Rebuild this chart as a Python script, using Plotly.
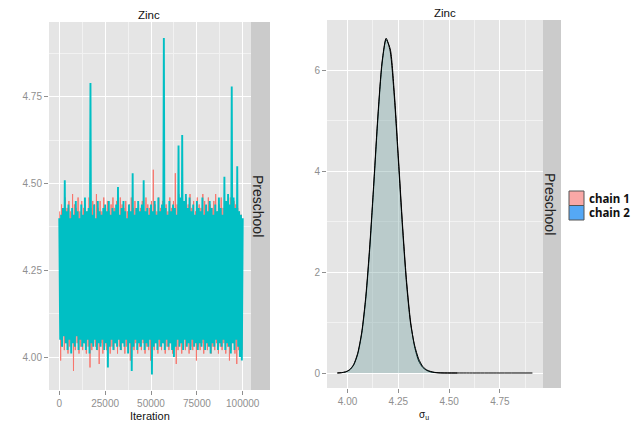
import plotly.graph_objects as go

W, H = 637, 428

# ---------------- data ----------------
# trace plot: iterations and sampled values (read from picture)
chain2_iter_start, chain2_iter_step = 0, 500
chain2_values = [
    4.40, 4.05, 4.41, 4.03, 4.43, 4.06, 4.51, 4.04, 4.42, 4.02,
    4.44, 4.05, 4.40, 4.01, 4.43, 4.04, 4.41, 4.03, 4.45, 4.06,
    4.42, 4.02, 4.40, 4.05, 4.44, 4.03, 4.41, 4.04, 4.46, 4.02,
    4.42, 4.05, 4.43, 4.01, 4.79, 4.04, 4.41, 4.03, 4.44, 4.05,
    4.40, 4.02, 4.45, 4.04, 4.42, 4.03, 4.41, 4.05, 4.43, 4.02,
    4.44, 4.04, 4.42, 3.97, 4.45, 4.03, 4.41, 4.05, 4.43, 4.02,
    4.42, 4.04, 4.44, 4.03, 4.49, 4.05, 4.41, 4.02, 4.43, 4.04,
    4.45, 4.03, 4.42, 4.05, 4.40, 4.01, 4.44, 4.04, 4.42, 3.96,
    4.53, 4.03, 4.41, 4.05, 4.43, 4.02, 4.45, 4.04, 4.42, 4.03,
    4.44, 4.05, 4.51, 4.02, 4.42, 4.04, 4.43, 4.03, 4.41, 4.05,
    4.44, 3.95, 4.42, 4.03, 4.45, 4.04, 4.41, 4.02, 4.46, 4.05,
    4.42, 4.03, 4.44, 4.04, 4.92, 4.02, 4.43, 4.05, 4.41, 4.03,
    4.45, 4.04, 4.42, 4.02, 4.44, 4.00, 4.43, 4.03, 4.41, 4.05,
    4.61, 4.03, 4.46, 4.04, 4.64, 4.02, 4.45, 4.05, 4.47, 4.03,
    4.43, 4.04, 4.46, 4.02, 4.42, 4.05, 4.44, 4.03, 4.41, 4.04,
    4.45, 4.02, 4.43, 4.04, 4.42, 4.03, 4.46, 4.05, 4.41, 4.02,
    4.44, 4.04, 4.42, 4.03, 4.45, 4.01, 4.43, 4.04, 4.41, 4.03,
    4.44, 4.05, 4.42, 4.02, 4.46, 4.04, 4.43, 4.03, 4.41, 4.05,
    4.52, 4.02, 4.45, 4.04, 4.47, 4.03, 4.44, 4.01, 4.78, 4.04,
    4.46, 4.02, 4.43, 4.05, 4.55, 4.03, 4.42, 4.00, 4.41, 3.99,
    4.40,
]
chain1_iter_start, chain1_iter_step = 250, 500
chain1_values = [
    4.42, 3.99, 4.44, 4.03, 4.41, 4.02, 4.46, 4.04, 4.43, 4.01,
    4.45, 4.03, 4.42, 4.05, 4.47, 3.96, 4.44, 4.02, 4.43, 4.04,
    4.46, 4.01, 4.42, 4.03, 4.45, 4.02, 4.43, 4.04, 4.44, 4.01,
    4.42, 4.03, 4.46, 3.97, 4.43, 4.02, 4.45, 4.04, 4.44, 4.03,
    4.47, 4.02, 4.43, 3.98, 4.45, 4.04, 4.42, 4.01, 4.46, 4.03,
    4.43, 4.02, 4.45, 4.04, 4.42, 4.01, 4.44, 4.03, 4.46, 4.02,
    4.43, 4.04, 4.45, 4.01, 4.42, 4.03, 4.46, 4.02, 4.44, 4.04,
    4.43, 4.01, 4.45, 4.03, 4.42, 4.02, 4.44, 3.99, 4.46, 4.03,
    4.43, 4.02, 4.45, 4.04, 4.42, 4.01, 4.44, 4.03, 4.43, 4.02,
    4.45, 4.04, 4.42, 4.01, 4.46, 4.03, 4.44, 4.02, 4.43, 3.99,
    4.45, 4.03, 4.54, 4.02, 4.44, 4.04, 4.42, 4.01, 4.46, 4.03,
    4.43, 4.02, 4.45, 4.04, 4.48, 4.01, 4.44, 4.03, 4.42, 4.02,
    4.46, 4.04, 4.43, 4.01, 4.45, 4.03, 4.53, 3.98, 4.44, 4.02,
    4.47, 4.04, 4.43, 4.01, 4.45, 4.03, 4.42, 4.02, 4.46, 4.04,
    4.44, 4.01, 4.47, 4.03, 4.43, 4.02, 4.45, 4.04, 4.42, 3.99,
    4.46, 4.03, 4.44, 4.02, 4.43, 4.04, 4.47, 4.01, 4.45, 4.03,
    4.42, 4.02, 4.46, 4.04, 4.44, 4.01, 4.43, 4.03, 4.45, 4.02,
    4.47, 4.04, 4.42, 4.01, 4.44, 4.03, 4.46, 4.02, 4.43, 4.04,
    4.45, 4.01, 4.42, 4.03, 4.44, 3.99, 4.46, 4.02, 4.43, 4.04,
    4.45, 4.01, 4.44, 3.98, 4.43, 4.02, 4.42, 4.03, 4.41, 4.02,
]

# density plot
dens_x1 = [3.95, 3.97, 3.99, 4.01, 4.03, 4.05, 4.07, 4.09, 4.11, 4.13,
           4.15, 4.17, 4.19, 4.21, 4.23, 4.25, 4.27, 4.29, 4.31, 4.33,
           4.35, 4.37, 4.39, 4.41, 4.43, 4.45, 4.47, 4.54]
dens_y1 = [0.001, 0.006, 0.02, 0.058, 0.155, 0.37, 0.78, 1.47, 2.49, 3.76,
           5.07, 6.12, 6.60, 6.42, 5.56, 4.30, 2.98, 1.85, 1.03, 0.52,
           0.24, 0.11, 0.05, 0.02, 0.008, 0.003, 0.001, 0.0]
dens_x2 = [3.95, 3.97, 3.99, 4.01, 4.03, 4.05, 4.07, 4.09, 4.11, 4.13,
           4.15, 4.17, 4.19, 4.21, 4.23, 4.25, 4.27, 4.29, 4.31, 4.33,
           4.35, 4.37, 4.39, 4.41, 4.43, 4.45, 4.47, 4.60, 4.75, 4.91]
dens_y2 = [0.0, 0.007, 0.022, 0.064, 0.166, 0.39, 0.81, 1.52, 2.55, 3.82,
           5.13, 6.16, 6.63, 6.37, 5.48, 4.22, 2.91, 1.79, 0.99, 0.55,
           0.28, 0.13, 0.06, 0.03, 0.012, 0.004, 0.001, 0.0, 0.0, 0.0]

trace_xticks = [0, 25000, 50000, 75000, 100000]
trace_xlabels = ["0", "25000", "50000", "75000", "100000"]
trace_yticks = [4.00, 4.25, 4.50, 4.75]
trace_ylabels = ["4.00", "4.25", "4.50", "4.75"]
dens_xticks = [4.00, 4.25, 4.50, 4.75]
dens_xlabels = ["4.00", "4.25", "4.50", "4.75"]
dens_yticks = [0, 2, 4, 6]
dens_ylabels = ["0", "2", "4", "6"]

panel_title = "Zinc"
strip_label = "Preschool"
legend_labels = ["chain 1", "chain 2"]

# ---------------- styling ----------------
RED = "#F8766D"
CYAN = "#00BFC4"
TICKGREY = "#8f8f8f"


def px_x(p):
    return p / W


def px_y(p):
    return 1 - p / H


chain2_x = [chain2_iter_start + i * chain2_iter_step for i in range(len(chain2_values))]
chain1_x = [chain1_iter_start + i * chain1_iter_step for i in range(len(chain1_values))]

fig = go.Figure()
fig.add_trace(go.Scatter(x=chain1_x, y=chain1_values, mode="lines",
                         line=dict(color=RED, width=1, simplify=False),
                         xaxis="x", yaxis="y", name="chain 1", showlegend=False))
fig.add_trace(go.Scatter(x=chain2_x, y=chain2_values, mode="lines",
                         line=dict(color=CYAN, width=1.9, simplify=False),
                         xaxis="x", yaxis="y", name="chain 2", showlegend=False))
fig.add_trace(go.Scatter(x=dens_x1, y=dens_y1, mode="lines", fill="tozeroy",
                         fillcolor="rgba(248,118,109,0.2)",
                         line=dict(color="black", width=1, shape="spline", smoothing=0.7),
                         xaxis="x2", yaxis="y2", showlegend=False))
fig.add_trace(go.Scatter(x=dens_x2, y=dens_y2, mode="lines", fill="tozeroy",
                         fillcolor="rgba(0,191,196,0.2)",
                         line=dict(color="black", width=1, shape="spline", smoothing=0.7),
                         xaxis="x2", yaxis="y2", showlegend=False))

axis_common = dict(
    showline=False, zeroline=False, showgrid=True, gridcolor="white", gridwidth=1.2,
    ticks="outside", ticklen=4, tickwidth=1, tickcolor=TICKGREY,
    tickfont=dict(family="Liberation Sans, Arial", size=10, color=TICKGREY),
    automargin=False, fixedrange=True,
)

fig.update_layout(
    width=W, height=H,
    margin=dict(l=0, r=0, t=0, b=0),
    paper_bgcolor="white",
    plot_bgcolor="#E5E5E5",
    showlegend=False,
    xaxis=dict(domain=[px_x(49), px_x(251)], range=[-5600, 104500],
               tickvals=trace_xticks, ticktext=trace_xlabels, anchor="y",
               minor=dict(tickvals=[12500, 37500, 62500, 87500], showgrid=True,
                          gridcolor="#F2F2F2", gridwidth=0.8, ticks=""),
               **axis_common),
    yaxis=dict(domain=[px_y(390), px_y(22)], range=[3.905, 4.966],
               tickvals=trace_yticks, ticktext=trace_ylabels, anchor="x",
               minor=dict(tickvals=[4.125, 4.375, 4.625, 4.875], showgrid=True,
                          gridcolor="#F2F2F2", gridwidth=0.8, ticks=""),
               **axis_common),
    xaxis2=dict(domain=[px_x(327), px_x(543)], range=[3.899, 4.962],
                tickvals=dens_xticks, ticktext=dens_xlabels, anchor="y2",
                minor=dict(tickvals=[4.125, 4.375, 4.625, 4.875], showgrid=True,
                           gridcolor="#F2F2F2", gridwidth=0.8, ticks=""),
                **axis_common),
    yaxis2=dict(domain=[px_y(388), px_y(20)], range=[-0.297, 6.99],
                tickvals=dens_yticks, ticktext=dens_ylabels, anchor="x2",
                minor=dict(tickvals=[1, 3, 5], showgrid=True,
                           gridcolor="#F2F2F2", gridwidth=0.8, ticks=""),
                **axis_common),
)

shapes = []
annotations = []
# facet strips
for (x0, x1, y0, y1, tx) in [(251, 270, 22, 390, 258), (543, 561, 20, 388, 550)]:
    shapes.append(dict(type="rect", xref="paper", yref="paper",
                       x0=px_x(x0), x1=px_x(x1), y0=px_y(y1), y1=px_y(y0),
                       fillcolor="#CBCBCB", line=dict(width=0), layer="below"))
    annotations.append(dict(text=strip_label, xref="paper", yref="paper",
                            x=px_x(tx), y=px_y((y0 + y1) / 2), showarrow=False,
                            textangle=90, xanchor="center", yanchor="middle",
                            font=dict(family="Liberation Sans, Arial", size=14,
                                      color="#222222")))

# titles
for tx, ty in [(149, 15), (445, 13)]:
    annotations.append(dict(text=panel_title, xref="paper", yref="paper",
                            x=px_x(tx), y=px_y(ty), showarrow=False,
                            xanchor="center", yanchor="middle",
                            font=dict(family="Liberation Sans, Arial", size=11.5,
                                      color="#111111")))
# axis titles
annotations.append(dict(text="Iteration", xref="paper", yref="paper",
                        x=px_x(150), y=px_y(416), showarrow=False,
                        xanchor="center", yanchor="middle",
                        font=dict(family="Liberation Sans, Arial", size=11,
                                  color="#111111")))
annotations.append(dict(text="σ<sub>u</sub>", xref="paper", yref="paper",
                        x=px_x(424), y=px_y(415), showarrow=False,
                        xanchor="center", yanchor="middle",
                        font=dict(family="Liberation Sans, Arial", size=10,
                                  color="#111111")))

# legend (drawn)
legend_colors = ["#F9A8A6", "#55A8F5"]
for i, (lab, col) in enumerate(zip(legend_labels, legend_colors)):
    y0 = 191 + i * 14.5
    shapes.append(dict(type="rect", xref="paper", yref="paper",
                       x0=px_x(569), x1=px_x(584), y0=px_y(y0 + 14.5), y1=px_y(y0),
                       fillcolor=col, line=dict(color="#555555", width=1)))
    annotations.append(dict(text="<b>" + lab + "</b>", xref="paper", yref="paper",
                            x=px_x(587), y=px_y(y0 + 7), showarrow=False,
                            xanchor="left", yanchor="middle",
                            font=dict(family="Noto Sans, Liberation Sans", size=11.5,
                                      color="#111111")))

fig.update_layout(shapes=shapes, annotations=annotations)
fig.write_html("out.html", config={"displayModeBar": False},
               post_script="document.body.style.margin='0';document.body.style.overflow='hidden';")
